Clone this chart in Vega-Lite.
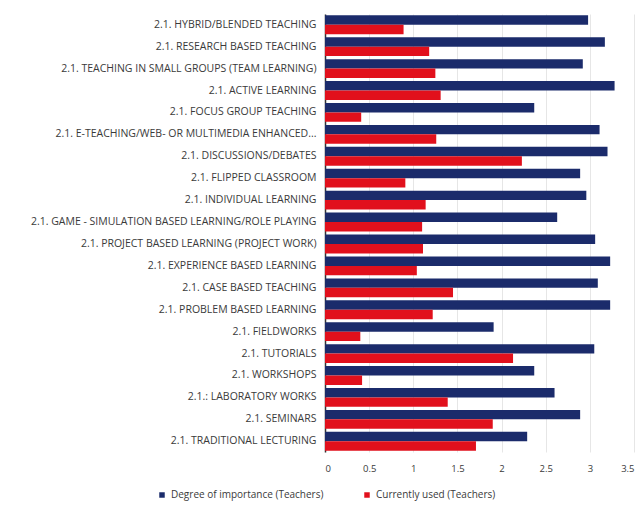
{
  "$schema": "https://vega.github.io/schema/vega-lite/v6.json",
  "width": 309,
  "height": 438,
  "autosize": {"type": "none"},
  "padding": {"left": 325, "top": 14, "right": 9, "bottom": 66},
  "background": "#ffffff",
  "config": {"view": {"stroke": null}, "font": "Open Sans"},
  "data": {"values": [
    {"cat": "2.1. HYBRID/BLENDED TEACHING", "series": "Degree of importance (Teachers)", "v": 2.98},
    {"cat": "2.1. HYBRID/BLENDED TEACHING", "series": "Currently used (Teachers)", "v": 0.89},
    {"cat": "2.1.  RESEARCH BASED TEACHING", "series": "Degree of importance (Teachers)", "v": 3.17},
    {"cat": "2.1.  RESEARCH BASED TEACHING", "series": "Currently used (Teachers)", "v": 1.18},
    {"cat": "2.1.  TEACHING IN SMALL GROUPS (TEAM LEARNING)", "series": "Degree of importance (Teachers)", "v": 2.92},
    {"cat": "2.1.  TEACHING IN SMALL GROUPS (TEAM LEARNING)", "series": "Currently used (Teachers)", "v": 1.25},
    {"cat": "2.1.  ACTIVE LEARNING", "series": "Degree of importance (Teachers)", "v": 3.28},
    {"cat": "2.1.  ACTIVE LEARNING", "series": "Currently used (Teachers)", "v": 1.31},
    {"cat": "2.1.  FOCUS GROUP TEACHING", "series": "Degree of importance (Teachers)", "v": 2.37},
    {"cat": "2.1.  FOCUS GROUP TEACHING", "series": "Currently used (Teachers)", "v": 0.41},
    {"cat": "2.1.  E-TEACHING/WEB- OR MULTIMEDIA ENHANCED...", "series": "Degree of importance (Teachers)", "v": 3.11},
    {"cat": "2.1.  E-TEACHING/WEB- OR MULTIMEDIA ENHANCED...", "series": "Currently used (Teachers)", "v": 1.26},
    {"cat": "2.1.  DISCUSSIONS/DEBATES", "series": "Degree of importance (Teachers)", "v": 3.2},
    {"cat": "2.1.  DISCUSSIONS/DEBATES", "series": "Currently used (Teachers)", "v": 2.23},
    {"cat": "2.1.  FLIPPED CLASSROOM", "series": "Degree of importance (Teachers)", "v": 2.89},
    {"cat": "2.1.  FLIPPED CLASSROOM", "series": "Currently used (Teachers)", "v": 0.91},
    {"cat": "2.1. INDIVIDUAL LEARNING", "series": "Degree of importance (Teachers)", "v": 2.96},
    {"cat": "2.1. INDIVIDUAL LEARNING", "series": "Currently used (Teachers)", "v": 1.14},
    {"cat": "2.1.  GAME - SIMULATION BASED LEARNING/ROLE PLAYING", "series": "Degree of importance (Teachers)", "v": 2.63},
    {"cat": "2.1.  GAME - SIMULATION BASED LEARNING/ROLE PLAYING", "series": "Currently used (Teachers)", "v": 1.1},
    {"cat": "2.1.  PROJECT BASED LEARNING (PROJECT WORK)", "series": "Degree of importance (Teachers)", "v": 3.06},
    {"cat": "2.1.  PROJECT BASED LEARNING (PROJECT WORK)", "series": "Currently used (Teachers)", "v": 1.11},
    {"cat": "2.1.  EXPERIENCE BASED LEARNING", "series": "Degree of importance (Teachers)", "v": 3.23},
    {"cat": "2.1.  EXPERIENCE BASED LEARNING", "series": "Currently used (Teachers)", "v": 1.04},
    {"cat": "2.1. CASE BASED TEACHING", "series": "Degree of importance (Teachers)", "v": 3.09},
    {"cat": "2.1. CASE BASED TEACHING", "series": "Currently used (Teachers)", "v": 1.45},
    {"cat": "2.1. PROBLEM BASED LEARNING", "series": "Degree of importance (Teachers)", "v": 3.23},
    {"cat": "2.1. PROBLEM BASED LEARNING", "series": "Currently used (Teachers)", "v": 1.22},
    {"cat": "2.1.  FIELDWORKS", "series": "Degree of importance (Teachers)", "v": 1.91},
    {"cat": "2.1.  FIELDWORKS", "series": "Currently used (Teachers)", "v": 0.4},
    {"cat": "2.1. TUTORIALS", "series": "Degree of importance (Teachers)", "v": 3.05},
    {"cat": "2.1. TUTORIALS", "series": "Currently used (Teachers)", "v": 2.13},
    {"cat": "2.1. WORKSHOPS", "series": "Degree of importance (Teachers)", "v": 2.37},
    {"cat": "2.1. WORKSHOPS", "series": "Currently used (Teachers)", "v": 0.42},
    {"cat": "2.1.: LABORATORY WORKS", "series": "Degree of importance (Teachers)", "v": 2.6},
    {"cat": "2.1.: LABORATORY WORKS", "series": "Currently used (Teachers)", "v": 1.39},
    {"cat": "2.1.  SEMINARS", "series": "Degree of importance (Teachers)", "v": 2.89},
    {"cat": "2.1.  SEMINARS", "series": "Currently used (Teachers)", "v": 1.9},
    {"cat": "2.1. TRADITIONAL LECTURING", "series": "Degree of importance (Teachers)", "v": 2.29},
    {"cat": "2.1. TRADITIONAL LECTURING", "series": "Currently used (Teachers)", "v": 1.71}
  ]},
  "mark": {"type": "bar"},
  "encoding": {
    "y": {
      "field": "cat", "type": "nominal", "sort": null,
      "scale": {"paddingInner": 0.14, "paddingOuter": 0.06},
      "axis": {"title": null, "ticks": false, "domain": true, "domainColor": "#333333", "domainWidth": 1.5,
               "labelFontSize": 10.5, "labelColor": "#3a3a3a", "labelPadding": 9, "labelLimit": 330}
    },
    "yOffset": {"field": "series", "type": "nominal", "sort": ["Degree of importance (Teachers)", "Currently used (Teachers)"]},
    "x": {
      "field": "v", "type": "quantitative",
      "scale": {"domain": [0, 3.5], "nice": false},
      "axis": {"title": null, "values": [0, 0.5, 1, 1.5, 2, 2.5, 3, 3.5], "format": "~g", "domain": false, "ticks": false,
               "grid": true, "gridColor": "#e6e6e6", "labelFontSize": 9.5, "labelColor": "#3a3a3a", "labelPadding": 11}
    },
    "color": {
      "field": "series", "type": "nominal",
      "scale": {"domain": ["Degree of importance (Teachers)", "Currently used (Teachers)"], "range": ["#1b2b6b", "#e1101c"]},
      "legend": {"title": null, "orient": "none", "direction": "horizontal", "legendX": -168, "legendY": 476,
                 "symbolType": "square", "symbolSize": 30, "labelFontSize": 10, "labelColor": "#3a3a3a", "columnPadding": 38}
    }
  }
}
